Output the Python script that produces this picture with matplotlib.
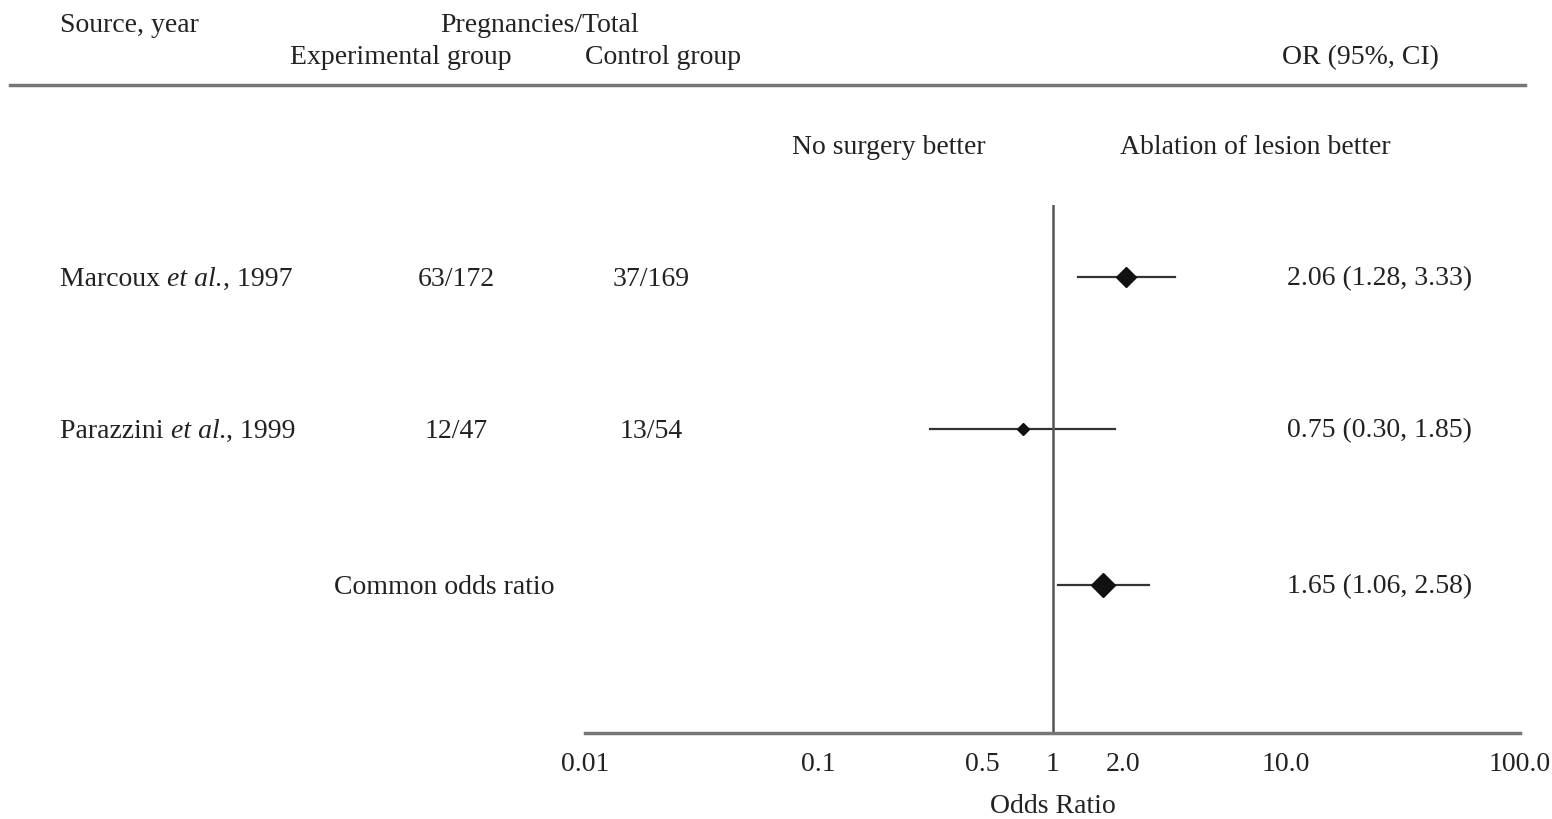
import numpy as np
import matplotlib.pyplot as plt

plt.rcParams['font.family'] = ['Liberation Serif', 'DejaVu Serif']

# data
authors = ['Marcoux', 'Parazzini']
years = ['1997', '1999']
exp_group = ['63/172', '12/47']
ctrl_group = ['37/169', '13/54']
odds = [2.06, 0.75, 1.65]
ci_low = [1.28, 0.30, 1.06]
ci_high = [3.33, 1.85, 2.58]
marker_sizes = [10, 6, 12]
tick_vals = [0.01, 0.1, 0.5, 1, 2, 10, 100]
tick_labels = ['0.01', '0.1', '0.5', '1', '2.0', '10.0', '100.0']

W, H = 1552, 819
fig = plt.figure(figsize=(W / 100, H / 100), dpi=100)
txt = '#222222'
fs = 20


def put(x, y, s, ha='center', **kw):
    # place text at pixel position (x, y) measured from top-left
    return fig.text(x / W, 1 - (y + 2) / H, s, fontsize=fs, color=txt, va='center', ha=ha, **kw)


# header
put(60, 24, 'Source, year', ha='left')
put(540, 24, 'Pregnancies/Total')
put(401, 56, 'Experimental group')
put(663, 56, 'Control group')
put(1360, 56, 'OR (95%, CI)')
fig.add_artist(plt.Line2D([10 / W, 1525 / W], [1 - 85 / H] * 2, color='#777777', lw=2.5))

put(889, 146, 'No surgery better')
put(1255, 146, 'Ablation of lesion better')

# plot area
top, bottom = 205, 733
ax = fig.add_axes([585 / W, 1 - bottom / H, (1520 - 585) / W, (bottom - top) / H])
ax.set_xscale('log')
ax.set_xlim(0.01, 100)
row_px = [277, 429, 585]
ax.set_ylim(bottom, top)

for i in range(3):
    ax.plot([ci_low[i], ci_high[i]], [row_px[i]] * 2, color='#333333', lw=1.6)
    ax.plot(odds[i], row_px[i], marker='D', ms=marker_sizes[i], color='#111111', mec='#111111')
    put(1287, row_px[i], '%.2f (%.2f, %.2f)' % (odds[i], ci_low[i], ci_high[i]), ha='left')

renderer = fig.canvas.get_renderer()
for i in range(2):
    # "Name et al., year" with italic "et al."
    x = 60
    for part, style in [(authors[i] + ' ', 'normal'), ('et al.', 'italic'), (', ' + years[i], 'normal')]:
        t = put(x, row_px[i], part, ha='left', style=style)
        x += t.get_window_extent(renderer).width
    put(456, row_px[i], exp_group[i])
    put(651, row_px[i], ctrl_group[i])
put(444, row_px[2], 'Common odds ratio')

ax.axvline(1, color='#555555', lw=1.8)
for s in ['top', 'right', 'left']:
    ax.spines[s].set_visible(False)
ax.spines['bottom'].set_color('#777777')
ax.spines['bottom'].set_linewidth(2.5)
ax.set_yticks([])
ax.set_xticks(tick_vals)
ax.set_xticklabels(tick_labels)
ax.minorticks_off()
ax.tick_params(axis='x', length=0, pad=14, labelsize=fs, labelcolor=txt)
ax.set_xlabel('Odds Ratio', fontsize=fs, color=txt, labelpad=12)
ax.patch.set_alpha(0)

fig.savefig('out.png', dpi=100)
